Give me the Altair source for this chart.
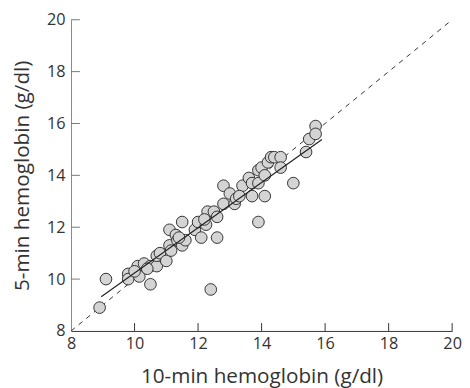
import altair as alt
import pandas as pd

x10 = [8.9, 9.1, 9.8, 9.8, 10.1, 10.15, 10.3, 10.5, 10.5, 10.7, 10.7, 10.8, 11.0, 11.1, 11.1, 11.15,
       11.3, 11.35, 11.5, 11.5, 11.6, 11.9, 12.0, 12.1, 12.25, 12.3, 12.4, 12.5, 12.6, 12.6, 12.8,
       12.8, 13.0, 13.15, 13.2, 13.4, 13.6, 13.7, 13.7, 13.9, 13.9, 13.9, 14.0, 14.1, 14.1, 14.2,
       14.3, 14.4, 14.6, 14.6, 15.0, 15.4, 15.5, 15.7, 15.7, 10.0, 10.4, 11.4, 12.2, 13.3]
y5 = [8.9, 10.0, 10.2, 10.0, 10.5, 10.1, 10.6, 9.8, 10.5, 10.5, 10.9, 11.0, 10.7, 11.9, 11.3, 11.1,
      11.7, 11.5, 12.2, 11.3, 11.5, 11.9, 12.2, 11.6, 12.1, 12.6, 9.6, 12.6, 12.4, 11.6, 13.6,
      12.9, 13.3, 12.9, 13.1, 13.6, 13.9, 13.2, 13.7, 14.2, 12.2, 13.7, 14.3, 13.2, 14.0, 14.5,
      14.7, 14.7, 14.7, 14.3, 13.7, 14.9, 15.4, 15.9, 15.6, 10.3, 10.4, 11.6, 12.3, 13.2]

reg_x = [8.95, 15.9]
reg_y = [9.32, 15.38]
id_x = [8, 20]
id_y = [8, 20]
tick_values = [8, 10, 12, 14, 16, 18, 20]
inner_ticks = [10, 12, 14, 16, 18, 20]

pts = pd.DataFrame({"x": x10, "y": y5})
reg = pd.DataFrame({"x": reg_x, "y": reg_y})
ident = pd.DataFrame({"x": id_x, "y": id_y})
tk = pd.DataFrame({"v": inner_ticks})

font = "Open Sans"
W, H = 387, 316
xs = alt.Scale(domain=[8, 20], nice=False, zero=False)
ys = alt.Scale(domain=[8, 20], nice=False, zero=False)

xax = alt.Axis(values=tick_values, grid=False, ticks=False,
               domainColor="#333", labelFontSize=16.5, labelFont=font, labelColor="#333",
               titleFontSize=21, titleFont=font, titleFontWeight="normal", titleColor="#333",
               titlePadding=14, labelPadding=5, labelFlush=False)
yax = alt.Axis(values=tick_values, grid=False, ticks=False,
               domainColor="#888", labelFontSize=16.5, labelFont=font, labelColor="#333",
               titleFontSize=21, titleFont=font, titleFontWeight="normal", titleColor="#333",
               titlePadding=14, labelPadding=6, labelFlush=False)

identity = alt.Chart(ident).mark_line(color="#333", strokeDash=[5, 5], strokeWidth=1).encode(
    x=alt.X("x:Q", scale=xs, axis=xax, title="10-min hemoglobin (g/dl)"),
    y=alt.Y("y:Q", scale=ys, axis=yax, title="5-min hemoglobin (g/dl)"),
)
xticks = alt.Chart(tk).mark_rule(color="#333", strokeWidth=1).encode(
    x=alt.X("v:Q", scale=xs), y=alt.value(H), y2=alt.value(H - 8))
yticks = alt.Chart(tk).mark_rule(color="#777", strokeWidth=1).encode(
    y=alt.Y("v:Q", scale=ys), x=alt.value(0), x2=alt.value(9))
points = alt.Chart(pts).mark_circle(size=140, opacity=1, color="#d4d4d4", stroke="#333",
                                    strokeWidth=1).encode(x="x:Q", y="y:Q")
regline = alt.Chart(reg).mark_line(color="#222", strokeWidth=1.2).encode(x="x:Q", y="y:Q")

chart = alt.layer(identity, xticks, yticks, points, regline).properties(
    width=W, height=H,
    autosize=alt.AutoSizeParams(type="none"),
    padding={"left": 64, "top": 9, "right": 10, "bottom": 56},
).configure_view(stroke=None)

chart.save("out.html", embed_options={"renderer": "svg", "actions": False})
